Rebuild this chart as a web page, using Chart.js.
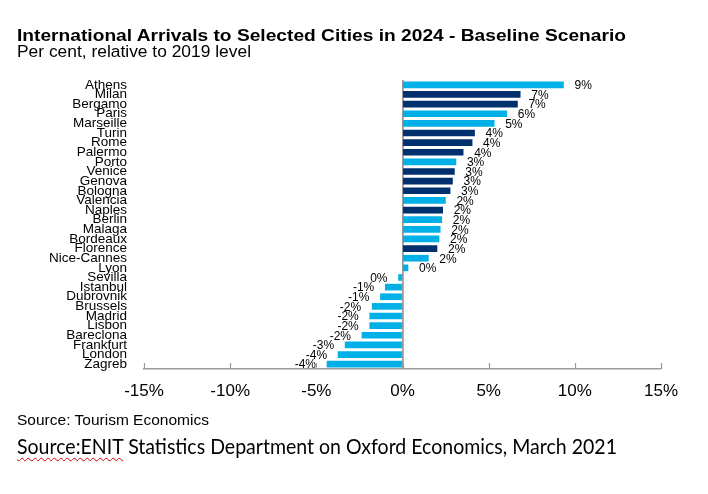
<!DOCTYPE html>
<html>
<head>
<meta charset="utf-8">
<script src="https://cdn.jsdelivr.net/npm/chart.js@4.4.1/dist/chart.umd.min.js"></script>
<style>
  html, body { margin:0; padding:0; background:#fff; }
  body { width:708px; height:494px; position:relative; overflow:hidden; }
  #c { position:absolute; left:0; top:0; }
  .t { position:absolute; white-space:nowrap; color:#000; transform-origin:0 0; line-height:1; }
  #title { left:17px; top:25.6px; font:bold 17px "Liberation Sans", Arial, sans-serif; }
  #sub { left:17px; top:41.8px; font:16.8px "Liberation Sans", Arial, sans-serif; }
  #src1 { left:17px; top:411.3px; font:15px "Liberation Sans", Arial, sans-serif; }
  #src2 { left:17px; top:433.4px; font:21px Lato, "Noto Sans", sans-serif; }
  #src2 .sq { text-decoration: underline wavy #d00000; text-decoration-thickness:1px; text-underline-offset:3px; }
</style>
</head>
<body>
<canvas id="c" width="708" height="494"></canvas>
<div class="t" id="title" data-w="609">International Arrivals to Selected Cities in 2024 - Baseline Scenario</div>
<div class="t" id="sub" data-w="234">Per cent, relative to 2019 level</div>
<div class="t" id="src1" data-w="192">Source: Tourism Economics</div>
<div class="t" id="src2" data-w="600"><span class="sq">Source:ENIT</span> Statistics Department on Oxford Economics, March 2021</div>
<script>
const cities = ["Athens","Milan","Bergamo","Paris","Marseille","Turin","Rome","Palermo","Porto","Venice","Genova","Bologna","Valencia","Naples","Berlin","Malaga","Bordeaux","Florence","Nice-Cannes","Lyon","Sevilla","Istanbul","Dubrovnik","Brussels","Madrid","Lisbon","Bareclona","Frankfurt","London","Zagreb"];
const values = [9.34,6.83,6.67,6.05,5.32,4.18,4.04,3.52,3.10,3.01,2.90,2.76,2.49,2.33,2.28,2.19,2.12,2.00,1.50,0.32,-0.23,-1.00,-1.28,-1.76,-1.90,-1.90,-2.35,-3.33,-3.74,-4.38];
const valueLabels = ["9%","7%","7%","6%","5%","4%","4%","4%","3%","3%","3%","3%","2%","2%","2%","2%","2%","2%","2%","0%","0%","-1%","-1%","-2%","-2%","-2%","-2%","-3%","-4%","-4%"];
const italian = [0,1,1,0,0,1,1,1,0,1,1,1,0,1,0,0,0,1,0,0,0,0,0,0,0,0,0,0,0,0];
const xTicks = [-15,-10,-5,0,5,10,15];

const LIGHT = "#00b0e6", DARK = "#00306e", AXIS = "#9a9a9a";

// fit header/footer text widths
document.querySelectorAll('.t').forEach(el => {
  const w = parseFloat(el.dataset.w);
  const real = el.getBoundingClientRect().width;
  if (real > 0) el.style.transform = 'scaleX(' + (w / real) + ')';
});

const labelPlugin = {
  id: 'valLabels',
  afterDatasetsDraw(chart) {
    const ctx = chart.ctx;
    const meta = chart.getDatasetMeta(0);
    ctx.save();
    ctx.font = '12px "Liberation Sans", Arial, sans-serif';
    ctx.fillStyle = '#000';
    ctx.textBaseline = 'middle';
    meta.data.forEach((bar, i) => {
      const v = values[i];
      if (v >= 0) { ctx.textAlign = 'left'; ctx.fillText(valueLabels[i], bar.x + 11, bar.y + 1); }
      else { ctx.textAlign = 'right'; ctx.fillText(valueLabels[i], bar.x - 11, bar.y + 1); }
    });
    // upward tick marks on the x axis
    const xs = chart.scales.x;
    const yb = chart.chartArea.bottom;
    ctx.strokeStyle = AXIS;
    ctx.lineWidth = 1.2;
    xTicks.forEach(t => {
      const px = Math.round(xs.getPixelForValue(t)) + 0.5;
      ctx.beginPath(); ctx.moveTo(px, yb); ctx.lineTo(px, yb - 6); ctx.stroke();
    });
    ctx.restore();
  }
};

new Chart(document.getElementById('c'), {
  type: 'bar',
  data: {
    labels: cities,
    datasets: [{
      data: values,
      backgroundColor: italian.map(f => f ? DARK : LIGHT),
      barThickness: 6,
      borderWidth: 0
    }]
  },
  options: {
    indexAxis: 'y',
    responsive: false,
    animation: false,
    layout: { padding: { left: 0, right: 47, top: 80, bottom: 85 } },
    plugins: { legend: { display: false }, tooltip: { enabled: false }, title: { display: false } },
    scales: {
      x: {
        min: -15, max: 15,
        afterBuildTicks(s) { s.ticks = xTicks.map(v => ({ value: v })); },
        afterFit(s) { s.height = 40; },
        border: { display: true, color: AXIS, width: 1.5 },
        grid: {
          drawTicks: false,
          color: c => (c.tick && c.tick.value === 0) ? AXIS : 'rgba(0,0,0,0)',
          lineWidth: c => (c.tick && c.tick.value === 0) ? 1.8 : 0
        },
        ticks: {
          padding: 12,
          color: '#000',
          font: { family: '"Liberation Sans", Arial, sans-serif', size: 17 },
          callback: v => v + '%'
        }
      },
      y: {
        afterFit(s) { s.width = 144; },
        border: { display: false },
        grid: { display: false, drawTicks: false },
        ticks: {
          autoSkip: false,
          padding: 17,
          color: '#000',
          font: { family: '"Liberation Sans", Arial, sans-serif', size: 13.5 }
        }
      }
    }
  },
  plugins: [labelPlugin]
});
</script>
</body>
</html>
